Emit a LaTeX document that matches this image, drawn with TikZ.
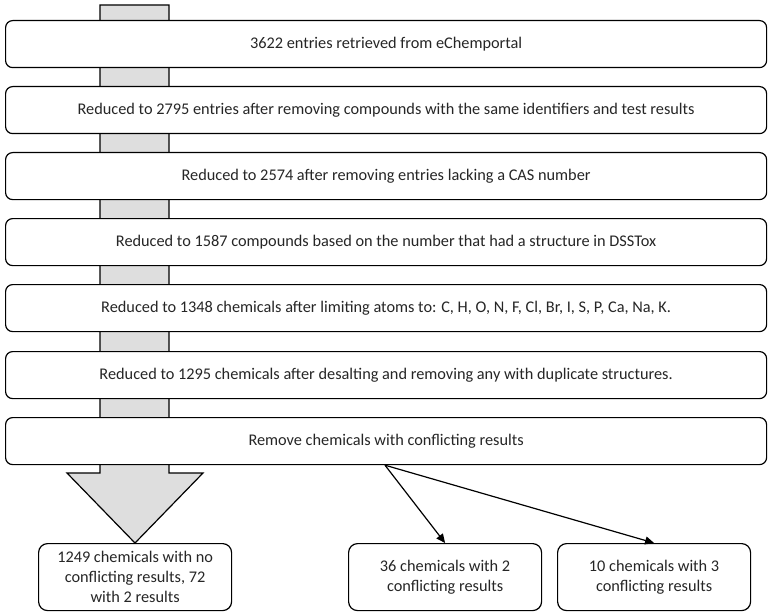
\documentclass[tikz,border=0pt]{standalone}
\usepackage{fontspec}
\setmainfont{Carlito}
\usetikzlibrary{arrows.meta}
\begin{document}
\begin{tikzpicture}[x=1pt,y=-1pt,
  stepbox/.style={draw=black,line width=1.2pt,rounded corners=7pt,fill=white,
    minimum width=761pt,minimum height=47pt,inner sep=0pt,anchor=north west,
    font=\fontsize{16.3}{19}\selectfont,text=black!85},
  endbox/.style={draw=black,line width=1.2pt,rounded corners=9pt,fill=white,
    minimum width=193pt,minimum height=67pt,inner sep=0pt,anchor=north west,
    align=center,font=\fontsize{16.3}{20}\selectfont,text=black!85},
  bigarrow/.style={draw=black,line width=1.2pt,fill=black!13},
  link/.style={draw=black,line width=1.2pt,-{Triangle[length=9pt,width=8pt]}}]
\useasboundingbox (0,0) rectangle (771,615);
% big gray arrow behind the boxes
\draw[bigarrow] (100,5) -- (169,5) -- (169,473) -- (203,473) -- (135,543) -- (67,473) -- (100,473) -- cycle;
\node[stepbox] (b1) at (5,20) {3622 entries retrieved from eChemportal};
\node[stepbox] (b2) at (5,86) {Reduced to 2795 entries after removing compounds with the same identifiers and test results};
\node[stepbox] (b3) at (5,152) {Reduced to 2574 after removing entries lacking a CAS number};
\node[stepbox] (b4) at (5,218) {Reduced to 1587 compounds based on the number that had a structure in DSSTox};
\node[stepbox] (b5) at (5,284) {Reduced to 1348 chemicals after limiting atoms to: C, H, O, N, F, Cl, Br, I, S, P, Ca, Na, K.};
\node[stepbox] (b6) at (5,351) {Reduced to 1295 chemicals after desalting and removing any with duplicate structures.};
\node[stepbox] (b7) at (5,417) {Remove chemicals with conflicting results};
\node[endbox] (bA) at (38,543) {1249 chemicals with no\\conflicting results, 72\\with 2 results};
\node[endbox] (bB) at (348,543) {36 chemicals with 2\\conflicting results};
\node[endbox] (bC) at (557,543) {10 chemicals with 3\\conflicting results};
\coordinate (fork) at (b7.south -| 385,0);
\draw[link] (fork) -- (bB.north);
\draw[link] (fork) -- (bC.north);
\end{tikzpicture}
\end{document}
